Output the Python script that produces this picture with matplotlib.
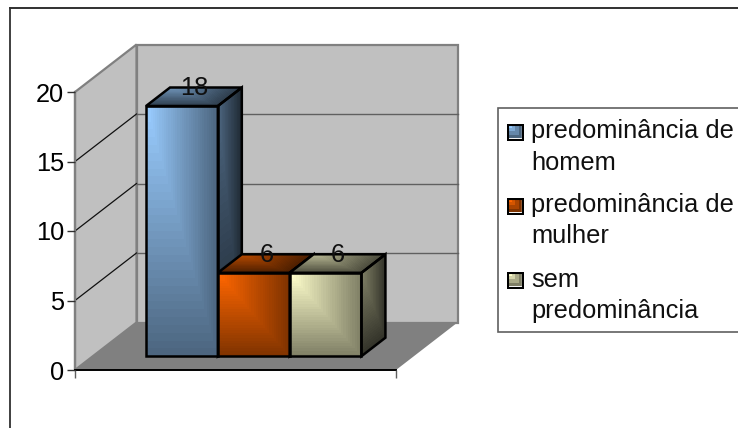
import numpy as np
import matplotlib
matplotlib.use("Agg")
import matplotlib.pyplot as plt
from matplotlib.patches import Polygon, Rectangle
from matplotlib.lines import Line2D

plt.rcParams['font.family'] = ['Liberation Sans', 'DejaVu Sans']

# Chart data
series_labels = ["predominância de\nhomem", "predominância de\nmulher", "sem\npredominância"]
series_values = [18, 6, 6]
base_colors = ["#99CCFF", "#FF6600", "#FFFFCC"]
y_ticks = [0, 5, 10, 15, 20]

W, H = 738, 428
FONT = 18.3
BAR_PX = 71.8
fig = plt.figure(figsize=(W / 100, H / 100), dpi=100, facecolor="white")


def fx(px):
    return px / W


def fy(py):
    return 1 - py / H


# Front plane of the 3D box: x 75..396 px, y 370..92 px
ax = fig.add_axes([fx(75), fy(370), (396 - 75) / W, (370 - 92) / H], zorder=2)
ax.patch.set_visible(False)
X_LO = -0.5 - 53.2 / BAR_PX
X_HI = X_LO + 321 / BAR_PX
Y_LO, Y_HI = 0, 20
ax.set_xlim(X_LO, X_HI)
ax.set_ylim(Y_LO, Y_HI)

# One unit of depth runs the full way from the front plane to the back wall
DEPTH_X = 61.5 / BAR_PX
DEPTH_Y = 47.5 / (278 / 20)


def proj(x, y, d):
    return x + d * DEPTH_X, y + d * DEPTH_Y


def poly(points, **kw):
    p = Polygon([proj(*q) for q in points], closed=True, clip_on=False, **kw)
    ax.add_patch(p)
    return p


# Walls and floor
WALL = "#C0C0C0"
EDGE = "#808080"
poly([(X_LO, Y_LO, 1), (X_HI, Y_LO, 1), (X_HI, Y_HI, 1), (X_LO, Y_HI, 1)],
     facecolor=WALL, edgecolor=EDGE, linewidth=1.6, zorder=0.5)
poly([(X_LO, Y_LO, 0), (X_LO, Y_LO, 1), (X_LO, Y_HI, 1), (X_LO, Y_HI, 0)],
     facecolor=WALL, edgecolor=EDGE, linewidth=1.6, zorder=0.6)
poly([(X_LO, Y_LO, 0), (X_HI, Y_LO, 0), (X_HI, Y_LO, 1), (X_LO, Y_LO, 1)],
     facecolor=EDGE, edgecolor="none", zorder=0.7)

# Gridlines across the side wall and the back wall
for v in y_ticks[1:-1]:
    a = proj(X_LO, v, 0)
    b = proj(X_LO, v, 1)
    c = proj(X_HI, v, 1)
    ax.add_line(Line2D([a[0], b[0]], [a[1], b[1]], color="#101010", lw=0.9, clip_on=False, zorder=0.8))
    ax.add_line(Line2D([b[0], c[0]], [b[1], c[1]], color="#606060", lw=1.0, clip_on=False, zorder=0.8))


def rgb(hexstr):
    return np.array(matplotlib.colors.to_rgb(hexstr))


def corner_shade(base, start, end, n=128, steps=32):
    """Banded corner gradient: factor goes start -> end away from the top-left corner."""
    u = (np.arange(n) + 0.5) / n
    uu, vv = np.meshgrid(u, u)
    t = np.maximum(uu, vv)
    t = np.clip(np.floor(t * steps) / (steps - 1), 0, 1)
    f = start + (end - start) * t
    return np.clip(base[None, None, :] * f[:, :, None], 0, 1)


def face(p00, p10, p01, p11, colors, z):
    """Fill a quadrilateral; p00 is top-left, p10 top-right, p01 bottom-left, p11 bottom-right."""
    n = colors.shape[0]
    s = np.linspace(0, 1, n + 1)
    ss, tt = np.meshgrid(s, s)
    P = [np.array(proj(*q)) for q in (p00, p10, p01, p11)]
    X = (1 - ss) * (1 - tt) * P[0][0] + ss * (1 - tt) * P[1][0] + (1 - ss) * tt * P[2][0] + ss * tt * P[3][0]
    Y = (1 - ss) * (1 - tt) * P[0][1] + ss * (1 - tt) * P[1][1] + (1 - ss) * tt * P[2][1] + ss * tt * P[3][1]
    m = ax.pcolormesh(X, Y, colors, shading="flat", edgecolors="none", antialiased=False,
                      linewidth=0, zorder=z)
    m.set_clip_on(False)


# Bars: front face, top and side, each with its own gradient
D0, D1 = 0.29, 0.68
for i, (val, col) in enumerate(zip(series_values, base_colors)):
    base = rgb(col)
    x0, x1 = i - 0.5, i + 0.5
    z = 3 + i
    face((x1, val, D0), (x1, val, D1), (x1, 0, D0), (x1, 0, D1),
         corner_shade(base, 0.50, 0.20), z)
    face((x0, val, D1), (x1, val, D1), (x0, val, D0), (x1, val, D0),
         corner_shade(base, 0.72, 0.30), z)
    face((x0, val, D0), (x1, val, D0), (x0, 0, D0), (x1, 0, D0),
         corner_shade(base, 1.0, 0.50), z + 0.1)
    outline = dict(facecolor="none", edgecolor="black", linewidth=1.8, joinstyle="miter", zorder=z + 0.2)
    poly([(x0, 0, D0), (x1, 0, D0), (x1, val, D0), (x0, val, D0)], **outline)
    poly([(x0, val, D0), (x1, val, D0), (x1, val, D1), (x0, val, D1)], **outline)
    poly([(x1, 0, D0), (x1, 0, D1), (x1, val, D1), (x1, val, D0)], **outline)

# Value labels sit just above the middle of each bar top
for i, val in enumerate(series_values):
    lx, ly = proj(i, val, (D0 + D1) / 2)
    ax.annotate(str(val), (lx, ly), xytext=(0.5, 6.5), textcoords="offset points",
                ha="center", va="center", fontsize=FONT, color="#101010",
                annotation_clip=False, zorder=10)

# Axes lines and ticks
for s in ("top", "right"):
    ax.spines[s].set_visible(False)
ax.spines["left"].set_color(EDGE)
ax.spines["left"].set_linewidth(1.6)
ax.spines["bottom"].set_color("black")
ax.spines["bottom"].set_linewidth(1.4)
ax.spines["left"].set_zorder(1)
ax.spines["bottom"].set_zorder(1)
ax.set_yticks(y_ticks)
ax.set_yticklabels([str(v) for v in y_ticks])
ax.set_xticks([X_LO, X_HI])
ax.set_xticklabels([])
ax.tick_params(axis="y", length=5.5, width=1.0, color="#303030", labelsize=FONT, pad=2.5)
ax.tick_params(axis="x", length=5.5, width=1.0, color="#606060")

# Outer chart frame, open on the right and at the bottom edge
fig.add_artist(Line2D([fx(10), fx(738)], [fy(8), fy(8)], color="#202020", lw=1.3))
fig.add_artist(Line2D([fx(10), fx(10)], [fy(8), fy(428)], color="#303030", lw=1.3))

# Legend box, cut off by the right edge of the figure
legend_box = Rectangle((fx(497.5), fy(331.5)), (760 - 497.5) / W, (331.5 - 108) / H,
                       transform=fig.transFigure, facecolor="white", edgecolor="#606060", lw=1.2)
legend_box.set_zorder(-1)
fig.add_artist(legend_box)

swatch_tops = [124, 198, 272]
line_baselines = [(138, 170), (212, 243), (287, 318)]
for label, col, top, bases in zip(series_labels, base_colors, swatch_tops, line_baselines):
    sw = fig.add_axes([fx(507), fy(top + 17), 17 / W, 17 / H], zorder=3)
    sw.axis("off")
    sw.imshow(corner_shade(rgb(col), 1.0, 0.50, n=4, steps=4), extent=(1.5, 14.5, 14.5, 1.5),
              interpolation="nearest", aspect="auto", zorder=2)
    sw.set_xlim(0, 17)
    sw.set_ylim(17, 0)
    sw.add_line(Line2D([14.9, 14.9, 1.5], [1.5, 14.9, 14.9], color="white", lw=1.0, zorder=2.5))
    sw.add_patch(Rectangle((0.7, 0.7), 15.6, 15.6, facecolor="none", edgecolor="black", lw=1.5, zorder=3))
    for line, base in zip(label.split("\n"), bases):
        fig.text(fx(531), fy(base), line, fontsize=FONT, color="#101010", ha="left", va="baseline")

fig.savefig("out.png", dpi=100, facecolor="white")
